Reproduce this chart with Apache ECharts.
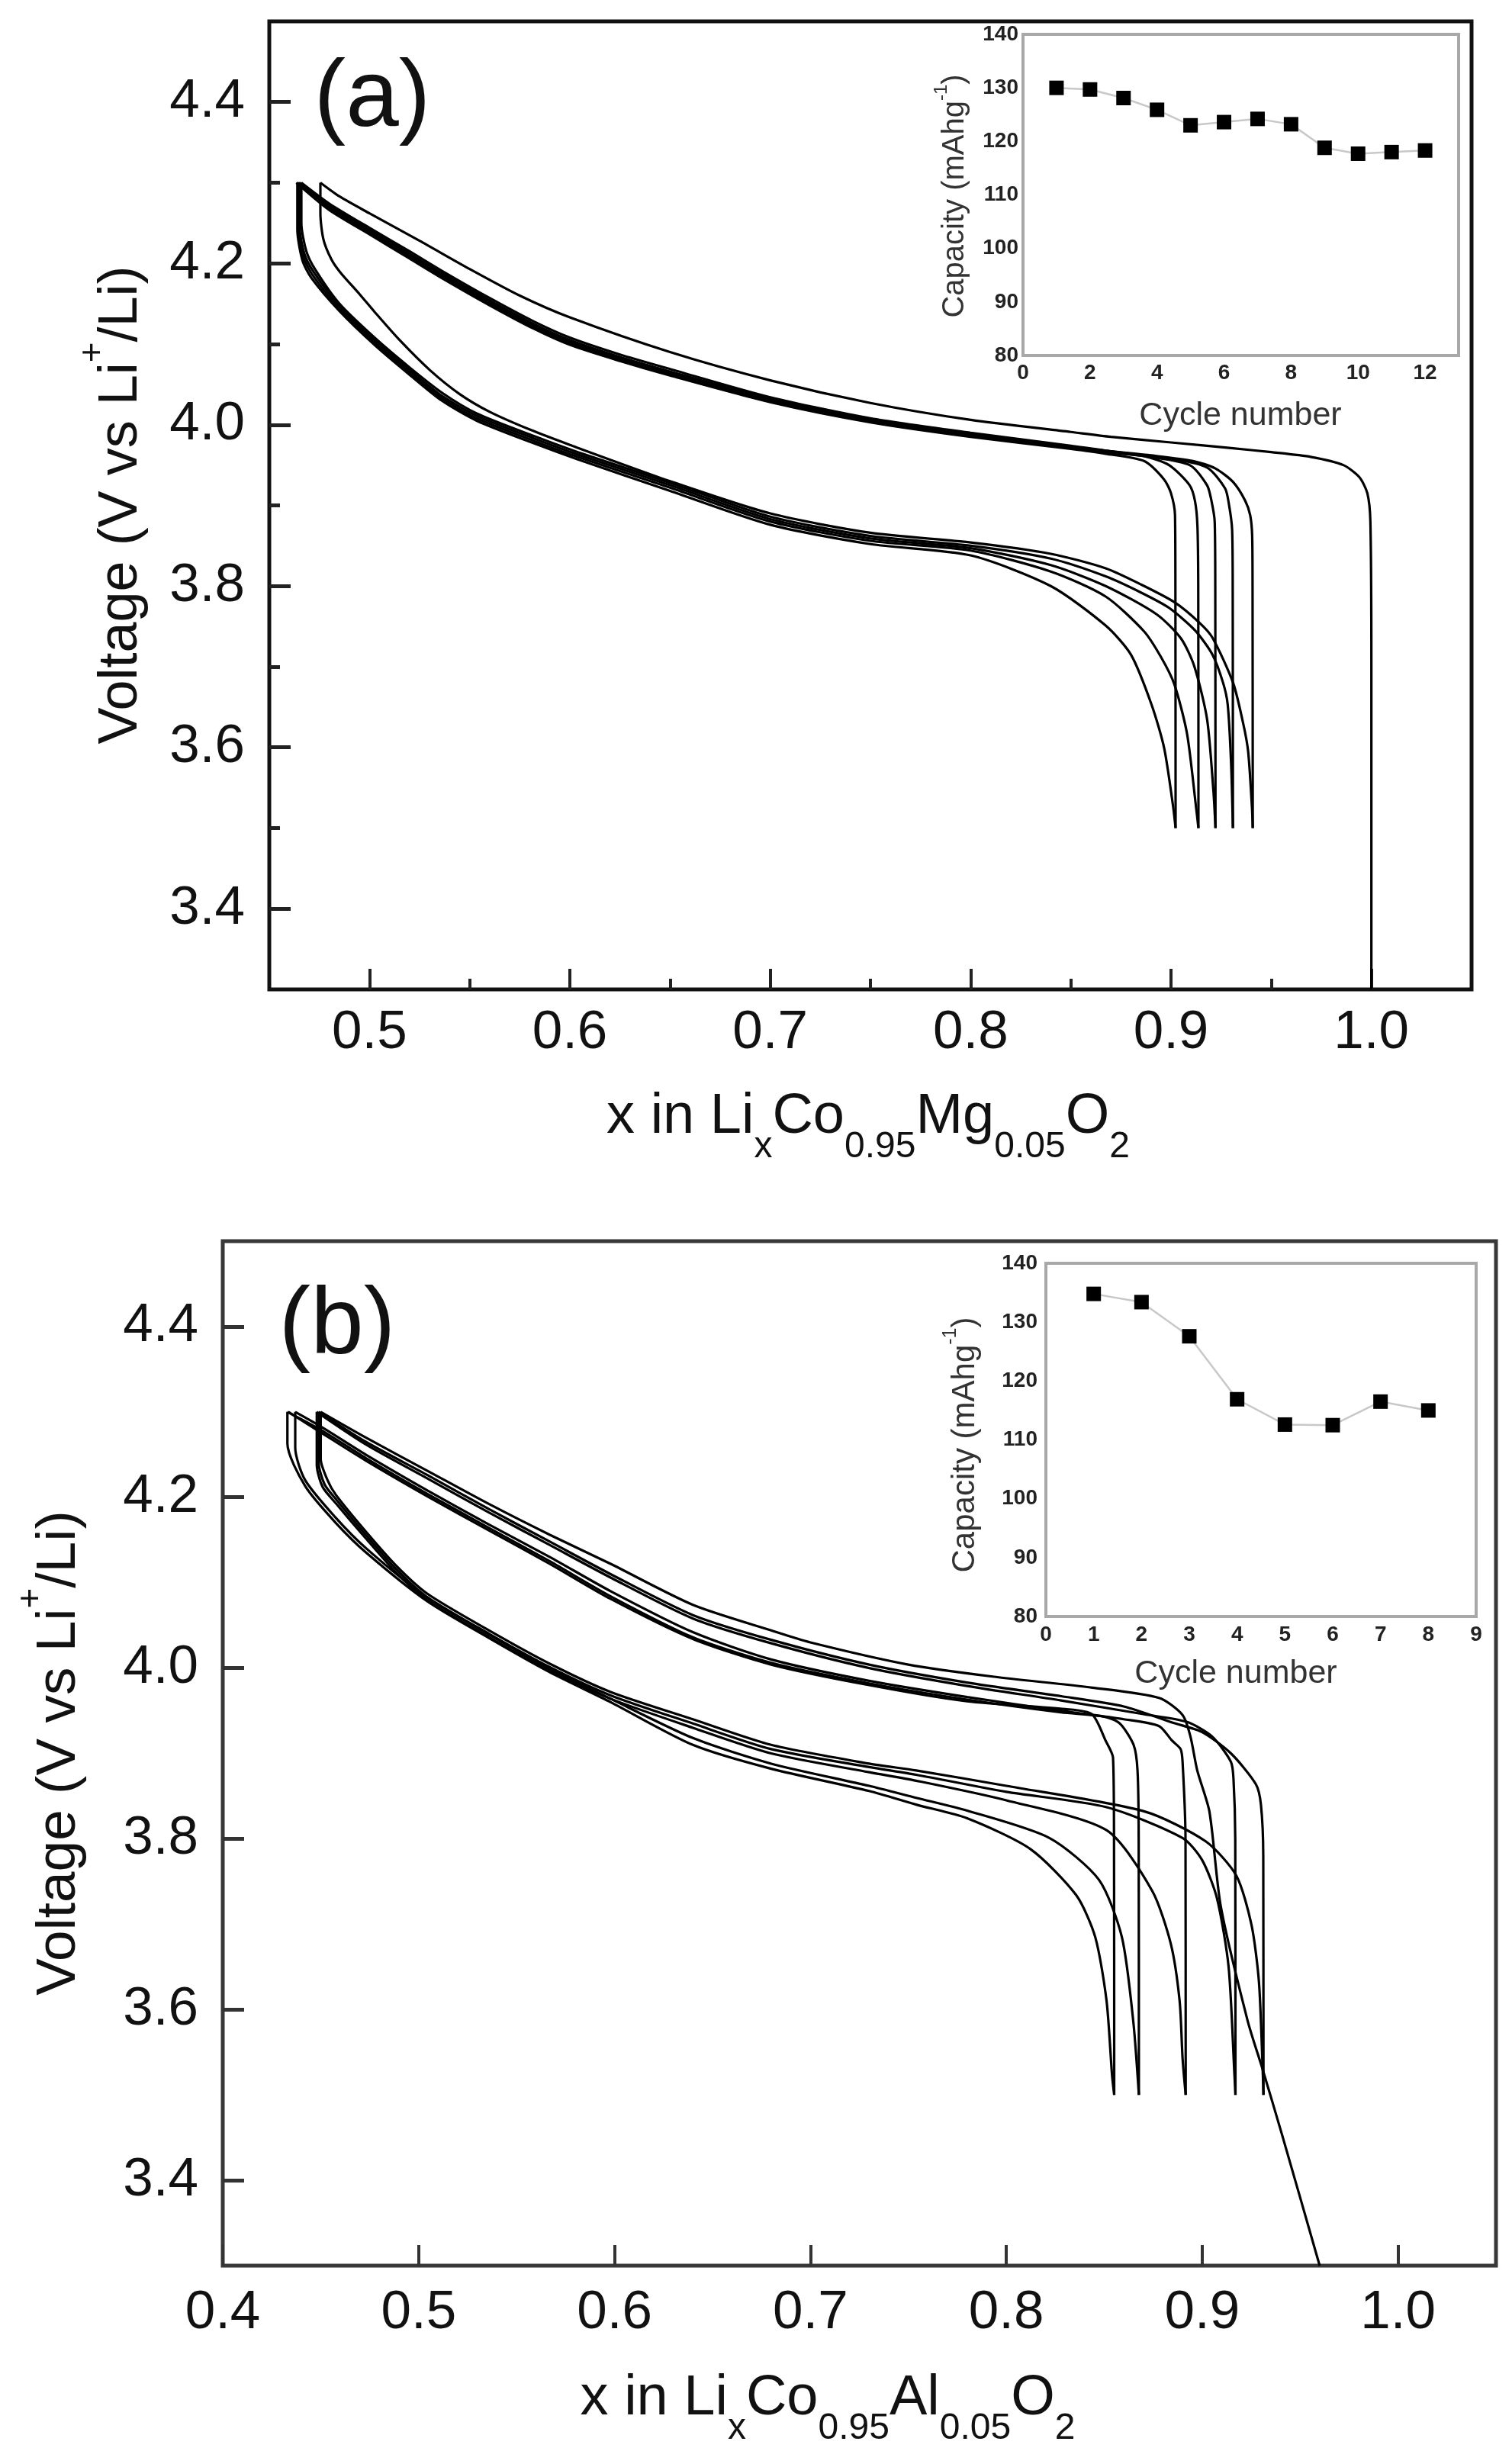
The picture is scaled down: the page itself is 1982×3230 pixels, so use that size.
<!DOCTYPE html>
<html>
<head>
<meta charset="utf-8">
<script src="https://cdn.jsdelivr.net/npm/echarts@6/dist/echarts.min.js"></script>
<style>
html,body{margin:0;padding:0;background:#fff;}
#chart{width:1982px;height:3230px;}
</style>
</head>
<body>
<div id="chart"></div>
<script>
// ---------- Panel (a): LixCo0.95Mg0.05O2 ----------
const aCharge1 = [[1.000,3.300],[1.000,3.700],[0.9995,3.880],[0.998,3.915],[0.994,3.935],[0.986,3.950],[0.970,3.960],[0.950,3.966],[0.930,3.971],[0.900,3.978],[0.870,3.985],[0.850,3.991],[0.800,4.006],[0.750,4.027],[0.700,4.055],[0.650,4.090],[0.600,4.133],[0.575,4.160],[0.550,4.193],[0.525,4.228],[0.500,4.262],[0.485,4.283],[0.4755,4.300]];
const aDischarge1 = [[0.4755,4.300],[0.4755,4.262],[0.477,4.230],[0.481,4.205],[0.4854,4.189],[0.495,4.162],[0.5025,4.140],[0.515,4.105],[0.530,4.068],[0.545,4.038],[0.560,4.016],[0.580,3.994],[0.600,3.975],[0.650,3.930],[0.700,3.890],[0.750,3.866],[0.800,3.854],[0.840,3.840],[0.8674,3.822],[0.885,3.802],[0.9017,3.780],[0.914,3.755],[0.9207,3.736],[0.931,3.680],[0.936,3.630],[0.9385,3.595],[0.9404,3.526],[0.9408,3.500]];
const aCharge2 = [[0.9408,3.500],[0.9407,3.800],[0.9405,3.863],[0.9395,3.888],[0.937,3.906],[0.931,3.929],[0.922,3.946],[0.911,3.955],[0.890,3.962],[0.867,3.968],[0.850,3.974],[0.800,3.990],[0.750,4.008],[0.700,4.034],[0.650,4.069],[0.625,4.087],[0.600,4.108],[0.582,4.128],[0.560,4.157],[0.536,4.191],[0.520,4.215],[0.500,4.244],[0.480,4.274],[0.466,4.300]];
const aDischarge2 = [[0.466,4.300],[0.466,4.250],[0.4685,4.215],[0.473,4.192],[0.485,4.150],[0.5025,4.108],[0.520,4.071],[0.536,4.040],[0.5535,4.014],[0.582,3.986],[0.604,3.966],[0.650,3.928],[0.700,3.886],[0.750,3.862],[0.800,3.850],[0.840,3.834],[0.8674,3.812],[0.885,3.792],[0.899,3.773],[0.912,3.745],[0.9207,3.715],[0.926,3.680],[0.9283,3.653],[0.930,3.580],[0.9309,3.500]];
const aCharge3 = [[0.9309,3.500],[0.9308,3.800],[0.9305,3.870],[0.929,3.900],[0.927,3.921],[0.918,3.947],[0.900,3.958],[0.880,3.964],[0.850,3.973],[0.800,3.988],[0.750,4.006],[0.700,4.032],[0.650,4.066],[0.625,4.084],[0.600,4.105],[0.582,4.125],[0.560,4.154],[0.536,4.188],[0.520,4.212],[0.500,4.242],[0.480,4.272],[0.465,4.300]];
const aDischarge3 = [[0.465,4.300],[0.465,4.248],[0.4675,4.212],[0.472,4.190],[0.485,4.147],[0.5025,4.105],[0.520,4.068],[0.536,4.036],[0.5535,4.011],[0.582,3.983],[0.604,3.963],[0.650,3.925],[0.700,3.883],[0.750,3.859],[0.800,3.847],[0.840,3.826],[0.8674,3.800],[0.8928,3.765],[0.905,3.735],[0.9117,3.700],[0.918,3.635],[0.9212,3.545],[0.9222,3.500]];
const aCharge4 = [[0.9222,3.500],[0.9221,3.800],[0.9218,3.880],[0.920,3.908],[0.918,3.925],[0.9093,3.950],[0.890,3.960],[0.870,3.966],[0.850,3.972],[0.800,3.987],[0.750,4.005],[0.700,4.030],[0.650,4.064],[0.625,4.082],[0.600,4.103],[0.582,4.123],[0.560,4.152],[0.536,4.186],[0.520,4.210],[0.500,4.240],[0.480,4.270],[0.4645,4.300]];
const aDischarge4 = [[0.4645,4.300],[0.4645,4.245],[0.467,4.208],[0.4715,4.186],[0.485,4.144],[0.5025,4.102],[0.520,4.065],[0.536,4.033],[0.5535,4.008],[0.582,3.980],[0.604,3.960],[0.650,3.922],[0.700,3.880],[0.750,3.856],[0.800,3.844],[0.840,3.818],[0.8674,3.787],[0.8865,3.744],[0.895,3.712],[0.9017,3.678],[0.908,3.617],[0.9125,3.526],[0.9137,3.500]];
const aCharge5 = [[0.9137,3.500],[0.9136,3.800],[0.9132,3.874],[0.912,3.905],[0.9093,3.925],[0.899,3.950],[0.8865,3.961],[0.870,3.965],[0.850,3.971],[0.800,3.986],[0.750,4.004],[0.700,4.029],[0.650,4.062],[0.625,4.080],[0.600,4.101],[0.582,4.121],[0.560,4.150],[0.536,4.184],[0.520,4.208],[0.500,4.238],[0.480,4.268],[0.464,4.300]];
const aDischarge5 = [[0.464,4.300],[0.464,4.242],[0.4665,4.204],[0.471,4.182],[0.485,4.141],[0.5025,4.099],[0.520,4.062],[0.536,4.030],[0.5535,4.005],[0.582,3.977],[0.604,3.957],[0.650,3.918],[0.700,3.876],[0.750,3.852],[0.800,3.838],[0.840,3.800],[0.8674,3.751],[0.880,3.715],[0.8903,3.653],[0.8966,3.599],[0.9011,3.526],[0.9023,3.500]];
const aCharge6 = [[0.9023,3.500],[0.9022,3.800],[0.902,3.888],[0.900,3.915],[0.8966,3.932],[0.8865,3.955],[0.8674,3.964],[0.850,3.970],[0.800,3.985],[0.750,4.003],[0.700,4.028],[0.650,4.061],[0.625,4.079],[0.600,4.099],[0.582,4.119],[0.560,4.148],[0.536,4.182],[0.520,4.206],[0.500,4.236],[0.480,4.266],[0.4635,4.300]];

// ---------- Panel (b): LixCo0.95Al0.05O2 ----------
const bCharge1 = [[0.960,3.300],[0.9407,3.454],[0.931,3.529],[0.9232,3.587],[0.9095,3.721],[0.9037,3.832],[0.8975,3.880],[0.894,3.920],[0.890,3.945],[0.878,3.965],[0.844,3.977],[0.793,3.990],[0.750,4.004],[0.700,4.030],[0.680,4.044],[0.640,4.074],[0.598,4.122],[0.567,4.156],[0.536,4.192],[0.5045,4.231],[0.473,4.270],[0.450,4.300]];
const bDischarge1 = [[0.450,4.300],[0.450,4.245],[0.4535,4.220],[0.4577,4.203],[0.473,4.160],[0.4885,4.120],[0.5045,4.087],[0.536,4.044],[0.567,4.005],[0.598,3.972],[0.640,3.940],[0.680,3.910],[0.730,3.888],[0.754,3.880],[0.800,3.862],[0.8706,3.832],[0.9018,3.797],[0.9174,3.757],[0.9252,3.699],[0.929,3.632],[0.931,3.523],[0.9313,3.500]];
const bCharge2 = [[0.9313,3.500],[0.9312,3.780],[0.930,3.840],[0.9274,3.864],[0.9147,3.900],[0.900,3.925],[0.885,3.936],[0.860,3.955],[0.828,3.967],[0.780,3.983],[0.730,4.004],[0.680,4.033],[0.640,4.062],[0.598,4.110],[0.567,4.148],[0.536,4.186],[0.5045,4.226],[0.473,4.265],[0.449,4.300]];
const bDischarge2 = [[0.449,4.300],[0.449,4.240],[0.452,4.215],[0.4577,4.198],[0.473,4.156],[0.4885,4.116],[0.5045,4.083],[0.536,4.040],[0.567,4.001],[0.598,3.968],[0.640,3.935],[0.680,3.905],[0.730,3.884],[0.754,3.875],[0.800,3.855],[0.8512,3.837],[0.890,3.801],[0.900,3.775],[0.9076,3.730],[0.9135,3.650],[0.9165,3.523],[0.917,3.500]];
const bCharge3 = [[0.917,3.500],[0.9169,3.800],[0.916,3.870],[0.9147,3.890],[0.905,3.920],[0.892,3.937],[0.870,3.946],[0.828,3.962],[0.780,3.979],[0.730,4.000],[0.680,4.029],[0.640,4.058],[0.598,4.106],[0.567,4.144],[0.536,4.182],[0.5045,4.222],[0.473,4.262],[0.448,4.300]];
const bDischarge3 = [[0.448,4.300],[0.448,4.238],[0.451,4.212],[0.4577,4.193],[0.473,4.152],[0.4885,4.112],[0.5045,4.079],[0.536,4.036],[0.567,3.997],[0.598,3.964],[0.640,3.930],[0.680,3.900],[0.730,3.878],[0.754,3.868],[0.800,3.845],[0.8512,3.810],[0.8745,3.739],[0.884,3.677],[0.8885,3.610],[0.890,3.543],[0.8916,3.500]];
const bCharge4 = [[0.8916,3.500],[0.8915,3.800],[0.890,3.890],[0.889,3.905],[0.8846,3.915],[0.878,3.932],[0.860,3.940],[0.828,3.950],[0.780,3.966],[0.730,3.985],[0.680,4.010],[0.640,4.042],[0.598,4.090],[0.567,4.130],[0.536,4.168],[0.5045,4.208],[0.473,4.250],[0.450,4.283],[0.437,4.300]];
const bDischarge4 = [[0.437,4.300],[0.437,4.258],[0.4421,4.220],[0.4577,4.176],[0.4733,4.140],[0.5045,4.082],[0.536,4.039],[0.567,3.999],[0.598,3.964],[0.640,3.918],[0.680,3.888],[0.730,3.862],[0.754,3.848],[0.780,3.833],[0.822,3.801],[0.8473,3.752],[0.859,3.685],[0.8648,3.587],[0.8677,3.500]];
const bCharge5 = [[0.8677,3.500],[0.8676,3.800],[0.867,3.880],[0.865,3.910],[0.858,3.935],[0.850,3.943],[0.828,3.948],[0.780,3.963],[0.730,3.982],[0.680,4.006],[0.640,4.036],[0.598,4.084],[0.567,4.125],[0.536,4.164],[0.5045,4.204],[0.473,4.246],[0.450,4.279],[0.433,4.300]];
const bDischarge5 = [[0.433,4.300],[0.433,4.263],[0.4421,4.213],[0.4577,4.170],[0.4733,4.135],[0.5045,4.078],[0.536,4.035],[0.567,3.995],[0.598,3.960],[0.640,3.910],[0.680,3.882],[0.730,3.856],[0.754,3.840],[0.780,3.824],[0.8123,3.788],[0.8357,3.734],[0.8454,3.685],[0.8512,3.610],[0.854,3.523],[0.8551,3.500]];
const bCharge6 = [[0.8551,3.500],[0.855,3.800],[0.8545,3.895],[0.8507,3.915],[0.8437,3.946],[0.830,3.952],[0.780,3.961],[0.730,3.980],[0.680,4.004],[0.640,4.034],[0.598,4.081],[0.567,4.122],[0.536,4.161],[0.5045,4.201],[0.473,4.243],[0.450,4.276],[0.4335,4.300]];

// ---------- Insets: capacity vs cycle ----------
const cyclesA = [1,2,3,4,5,6,7,8,9,10,11,12];
const capacityA = [130.0,129.7,128.1,125.9,123.0,123.6,124.2,123.2,118.8,117.7,118.0,118.3];
const cyclesB = [1,2,3,4,5,6,7,8];
const capacityB = [134.8,133.4,127.6,116.9,112.6,112.5,116.5,115.0];

// ---------- Tick values ----------
const voltTicks = [3.4,3.6,3.8,4.0,4.2,4.4];
const voltMinorA = [3.5,3.7,3.9,4.1,4.3];
const xTicksA = [0.5,0.6,0.7,0.8,0.9,1.0];
const xMinorA = [0.55,0.65,0.75,0.85,0.95];
const xTicksB = [0.4,0.5,0.6,0.7,0.8,0.9,1.0];
const cycleTicksA = [0,2,4,6,8,10,12];
const cycleTicksB = [0,1,2,3,4,5,6,7,8,9];

const FONT = 'Liberation Sans, Arial, Helvetica, sans-serif';
const chart = echarts.init(document.getElementById('chart'), null, {renderer:'canvas'});

const curvesA = [aCharge1,aDischarge1,aCharge2,aDischarge2,aCharge3,aDischarge3,aCharge4,aDischarge4,aCharge5,aDischarge5,aCharge6];
const curvesB = [bCharge1,bDischarge1,bCharge2,bDischarge2,bCharge3,bDischarge3,bCharge4,bDischarge4,bCharge5,bDischarge5,bCharge6];

function curveSeries(data, xi, yi){
  return {type:'line', xAxisIndex:xi, yAxisIndex:yi, data:data, showSymbol:false, symbol:'none',
    smooth:0.25, silent:true, clip:true, lineStyle:{color:'#000', width:3.2}, z:3};
}

function mainX(grid, min, max, ticks, minor, margin, tickColor){
  return {type:'value', gridIndex:grid, min:min, max:max, position:'bottom',
    axisLine:{show:false}, splitLine:{show:false},
    axisTick:{show:true, inside:true, length:minor?14:27, customValues:ticks, lineStyle:{color:tickColor, width:4}},
    axisLabel:{show:!minor, customValues:ticks, margin:margin, fontSize:71, fontFamily:FONT, color:'#111',
      formatter:function(v){return v.toFixed(1);}}};
}
function mainY(grid, ticks, minor, tickColor){
  return {type:'value', gridIndex:grid, min:3.3, max:4.5, position:'left',
    axisLine:{show:false}, splitLine:{show:false},
    axisTick:{show:true, inside:true, length:minor?14:28, customValues:ticks, lineStyle:{color:tickColor, width:5}},
    axisLabel:{show:!minor, customValues:ticks, margin:32, fontSize:71, fontFamily:FONT, color:'#111',
      formatter:function(v){return v.toFixed(1);}}};
}

const insetLabel = {fontSize:28, fontWeight:'bold', fontFamily:FONT, color:'#222'};

const option = {
  animation:false,
  backgroundColor:'#ffffff',
  grid:[
    {left:353, top:28, width:1576, height:1269, show:true, borderColor:'#111', borderWidth:5, backgroundColor:'transparent'},
    {left:292, top:1627, width:1669, height:1343, show:true, borderColor:'#383838', borderWidth:5, backgroundColor:'transparent'},
    {left:1341, top:45, width:571, height:421, show:true, borderColor:'#a8a8a8', borderWidth:4, backgroundColor:'#fff', z:4},
    {left:1371, top:1656, width:564, height:463, show:true, borderColor:'#a8a8a8', borderWidth:4, backgroundColor:'#fff', z:4}
  ],
  xAxis:[
    mainX(0, 0.45, 1.05, xTicksA, false, 22, '#222'),
    mainX(0, 0.45, 1.05, xMinorA, true, 22, '#222'),
    mainX(1, 0.40, 1.05, xTicksB, false, 27, '#333'),
    {type:'value', gridIndex:2, min:0, max:13, position:'bottom', axisLine:{show:false}, splitLine:{show:false},
      axisTick:{show:true, inside:true, length:7, customValues:cycleTicksA, lineStyle:{color:'#888', width:2}},
      axisLabel:Object.assign({customValues:cycleTicksA, margin:9}, insetLabel)},
    {type:'value', gridIndex:3, min:0, max:9, position:'bottom', axisLine:{show:false}, splitLine:{show:false},
      axisTick:{show:true, inside:true, length:7, customValues:cycleTicksB, lineStyle:{color:'#888', width:2}},
      axisLabel:Object.assign({customValues:cycleTicksB, margin:10}, insetLabel)}
  ],
  yAxis:[
    mainY(0, voltTicks, false, '#222'),
    mainY(0, voltMinorA, true, '#222'),
    mainY(1, voltTicks, false, '#333'),
    {type:'value', gridIndex:2, min:80, max:140, interval:10, position:'left', axisLine:{show:false}, splitLine:{show:false},
      axisTick:{show:true, inside:true, length:7, lineStyle:{color:'#888', width:2}},
      axisLabel:Object.assign({margin:6}, insetLabel)},
    {type:'value', gridIndex:3, min:80, max:140, interval:10, position:'left', axisLine:{show:false}, splitLine:{show:false},
      axisTick:{show:true, inside:true, length:7, lineStyle:{color:'#888', width:2}},
      axisLabel:Object.assign({margin:11}, insetLabel)}
  ],
  series: [].concat(
    curvesA.map(function(d){return curveSeries(d,0,0);}),
    curvesB.map(function(d){return curveSeries(d,2,2);}),
    [
      {type:'line', xAxisIndex:3, yAxisIndex:3, data:cyclesA.map(function(c,i){return [c, capacityA[i]];}),
        symbol:'rect', symbolSize:19, itemStyle:{color:'#000'}, lineStyle:{color:'#c8c8c8', width:2.5}, z:6, silent:true},
      {type:'line', xAxisIndex:4, yAxisIndex:4, data:cyclesB.map(function(c,i){return [c, capacityB[i]];}),
        symbol:'rect', symbolSize:19, itemStyle:{color:'#000'}, lineStyle:{color:'#c8c8c8', width:2.5}, z:6, silent:true}
    ]
  ),
  graphic:[
    {type:'text', x:488, y:131, z:10, style:{text:'(a)', font:'125px '+FONT, fill:'#111', align:'center', verticalAlign:'middle'}},
    {type:'text', x:442, y:1740, z:10, style:{text:'(b)', font:'125px '+FONT, fill:'#111', align:'center', verticalAlign:'middle'}},
    {type:'text', x:147, y:662, rotation:Math.PI/2, z:10, style:{
      text:'{m|Voltage (V vs Li}{p|+}{m|/Li)}', align:'center', verticalAlign:'middle', fill:'#111',
      rich:{m:{fontSize:72, fontFamily:FONT, fill:'#111', lineHeight:96, verticalAlign:'bottom'},
            p:{fontSize:46, fontFamily:FONT, fill:'#111', lineHeight:50, verticalAlign:'top'}}}},
    {type:'text', x:66, y:2298, rotation:Math.PI/2, z:10, style:{
      text:'{m|Voltage (V vs Li}{p|+}{m|/Li)}', align:'center', verticalAlign:'middle', fill:'#111',
      rich:{m:{fontSize:73, fontFamily:FONT, fill:'#111', lineHeight:96, verticalAlign:'bottom'},
            p:{fontSize:46, fontFamily:FONT, fill:'#111', lineHeight:50, verticalAlign:'top'}}}},
    {type:'text', x:1138, y:1478, z:10, style:{
      text:'{m|x in Li}{s|x}{m|Co}{s|0.95}{m|Mg}{s|0.05}{m|O}{s|2}', align:'center', verticalAlign:'middle', fill:'#111',
      rich:{m:{fontSize:74, fontFamily:FONT, fill:'#111', lineHeight:100, verticalAlign:'top'},
            s:{fontSize:48, fontFamily:FONT, fill:'#111', lineHeight:44, verticalAlign:'bottom'}}}},
    {type:'text', x:1085, y:3158, z:10, style:{
      text:'{m|x in Li}{s|x}{m|Co}{s|0.95}{m|Al}{s|0.05}{m|O}{s|2}', align:'center', verticalAlign:'middle', fill:'#111',
      rich:{m:{fontSize:74, fontFamily:FONT, fill:'#111', lineHeight:100, verticalAlign:'top'},
            s:{fontSize:48, fontFamily:FONT, fill:'#111', lineHeight:44, verticalAlign:'bottom'}}}},
    {type:'text', x:1626, y:545, z:10, style:{text:'Cycle number', font:'43px '+FONT, fill:'#333', align:'center', verticalAlign:'middle'}},
    {type:'text', x:1620, y:2194, z:10, style:{text:'Cycle number', font:'43px '+FONT, fill:'#333', align:'center', verticalAlign:'middle'}},
    {type:'text', x:1247, y:257, rotation:Math.PI/2, z:10, style:{
      text:'{m|Capacity (mAhg}{p|-1}{m|)}', align:'center', verticalAlign:'middle', fill:'#333',
      rich:{m:{fontSize:40, fontFamily:FONT, fill:'#333', lineHeight:50, verticalAlign:'bottom'},
            p:{fontSize:24, fontFamily:FONT, fill:'#333', lineHeight:26, verticalAlign:'top'}}}},
    {type:'text', x:1260, y:1894, rotation:Math.PI/2, z:10, style:{
      text:'{m|Capacity (mAhg}{p|-1}{m|)}', align:'center', verticalAlign:'middle', fill:'#333',
      rich:{m:{fontSize:42, fontFamily:FONT, fill:'#333', lineHeight:52, verticalAlign:'bottom'},
            p:{fontSize:25, fontFamily:FONT, fill:'#333', lineHeight:28, verticalAlign:'top'}}}}
  ]
};
chart.setOption(option);
</script>
</body>
</html>
